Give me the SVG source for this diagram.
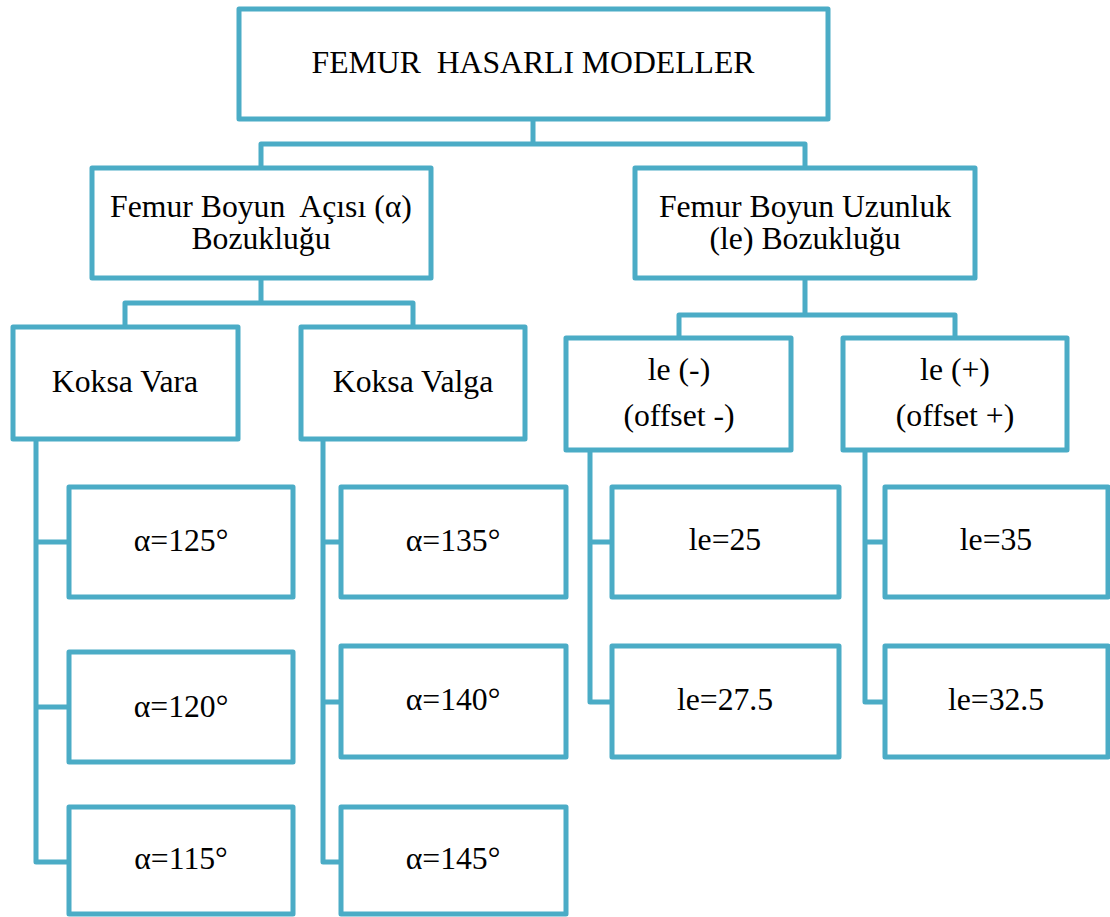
<svg xmlns="http://www.w3.org/2000/svg" width="1110" height="917" viewBox="0 0 1110 917">
  <style>
    .box { fill: #ffffff; stroke: #4bacc6; stroke-width: 5; stroke-linejoin: round; }
    .link { fill: none; stroke: #4bacc6; stroke-width: 5; stroke-linejoin: round; }
    text { font-family: "Liberation Serif", "Times New Roman", serif; font-size: 31.7px; fill: #000000; text-anchor: middle; white-space: pre; }
  </style>
  <rect width="1110" height="917" fill="#ffffff"/>

  <!-- tree connectors -->
  <g id="connectors">
    <path class="link" d="M533 119 V144 M261 168 V144 H805 V168"/>
    <path class="link" d="M261 278 V303 M125 327 V303 H413 V327"/>
    <path class="link" d="M805 278 V315 M679 338 V315 H955 V338"/>
    <path class="link" d="M36 439 V862 H69 M36 542 H69 M36 707 H69"/>
    <path class="link" d="M323 439 V862 H341 M323 542 H341 M323 702 H341"/>
    <path class="link" d="M590 450 V702 H612 M590 542 H612"/>
    <path class="link" d="M865 450 V702 H885 M865 542 H885"/>
  </g>

  <g id="root">
    <rect class="box" x="239" y="9" width="589" height="110"/>
    <text x="533" y="73">FEMUR  HASARLI MODELLER</text>
  </g>

  <g id="angle-deformity">
    <rect class="box" x="92" y="168" width="339" height="110"/>
    <text x="261" y="217">Femur Boyun  Açısı (α)</text>
    <text x="261" y="249">Bozukluğu</text>
  </g>

  <g id="length-deformity">
    <rect class="box" x="635" y="168" width="340" height="110"/>
    <text x="805" y="217">Femur Boyun Uzunluk</text>
    <text x="805" y="249">(le) Bozukluğu</text>
  </g>

  <g id="koksa-vara">
    <rect class="box" x="13" y="327" width="225" height="112"/>
    <text x="125" y="392">Koksa Vara</text>
  </g>

  <g id="koksa-valga">
    <rect class="box" x="301" y="327" width="224" height="112"/>
    <text x="413" y="392">Koksa Valga</text>
  </g>

  <g id="le-minus">
    <rect class="box" x="566" y="338" width="225" height="112"/>
    <text x="679" y="380">le (-)</text>
    <text x="679" y="426">(offset -)</text>
  </g>

  <g id="le-plus">
    <rect class="box" x="843" y="338" width="224" height="112"/>
    <text x="955" y="380">le (+)</text>
    <text x="955" y="426">(offset +)</text>
  </g>

  <g id="vara-125">
    <rect class="box" x="69" y="487" width="224" height="110"/>
    <text x="181" y="551">α=125°</text>
  </g>
  <g id="vara-120">
    <rect class="box" x="69" y="652" width="224" height="110"/>
    <text x="181" y="717">α=120°</text>
  </g>
  <g id="vara-115">
    <rect class="box" x="69" y="807" width="224" height="107"/>
    <text x="181" y="869">α=115°</text>
  </g>

  <g id="valga-135">
    <rect class="box" x="341" y="487" width="225" height="110"/>
    <text x="453" y="551">α=135°</text>
  </g>
  <g id="valga-140">
    <rect class="box" x="341" y="646" width="225" height="111"/>
    <text x="453" y="710">α=140°</text>
  </g>
  <g id="valga-145">
    <rect class="box" x="341" y="807" width="225" height="107"/>
    <text x="453" y="869">α=145°</text>
  </g>

  <g id="le-25">
    <rect class="box" x="612" y="487" width="227" height="110"/>
    <text x="725" y="550">le=25</text>
  </g>
  <g id="le-27-5">
    <rect class="box" x="612" y="646" width="227" height="111"/>
    <text x="725" y="710">le=27.5</text>
  </g>

  <g id="le-35">
    <rect class="box" x="885" y="487" width="223" height="110"/>
    <text x="996" y="550">le=35</text>
  </g>
  <g id="le-32-5">
    <rect class="box" x="885" y="646" width="223" height="111"/>
    <text x="996" y="710">le=32.5</text>
  </g>
</svg>
